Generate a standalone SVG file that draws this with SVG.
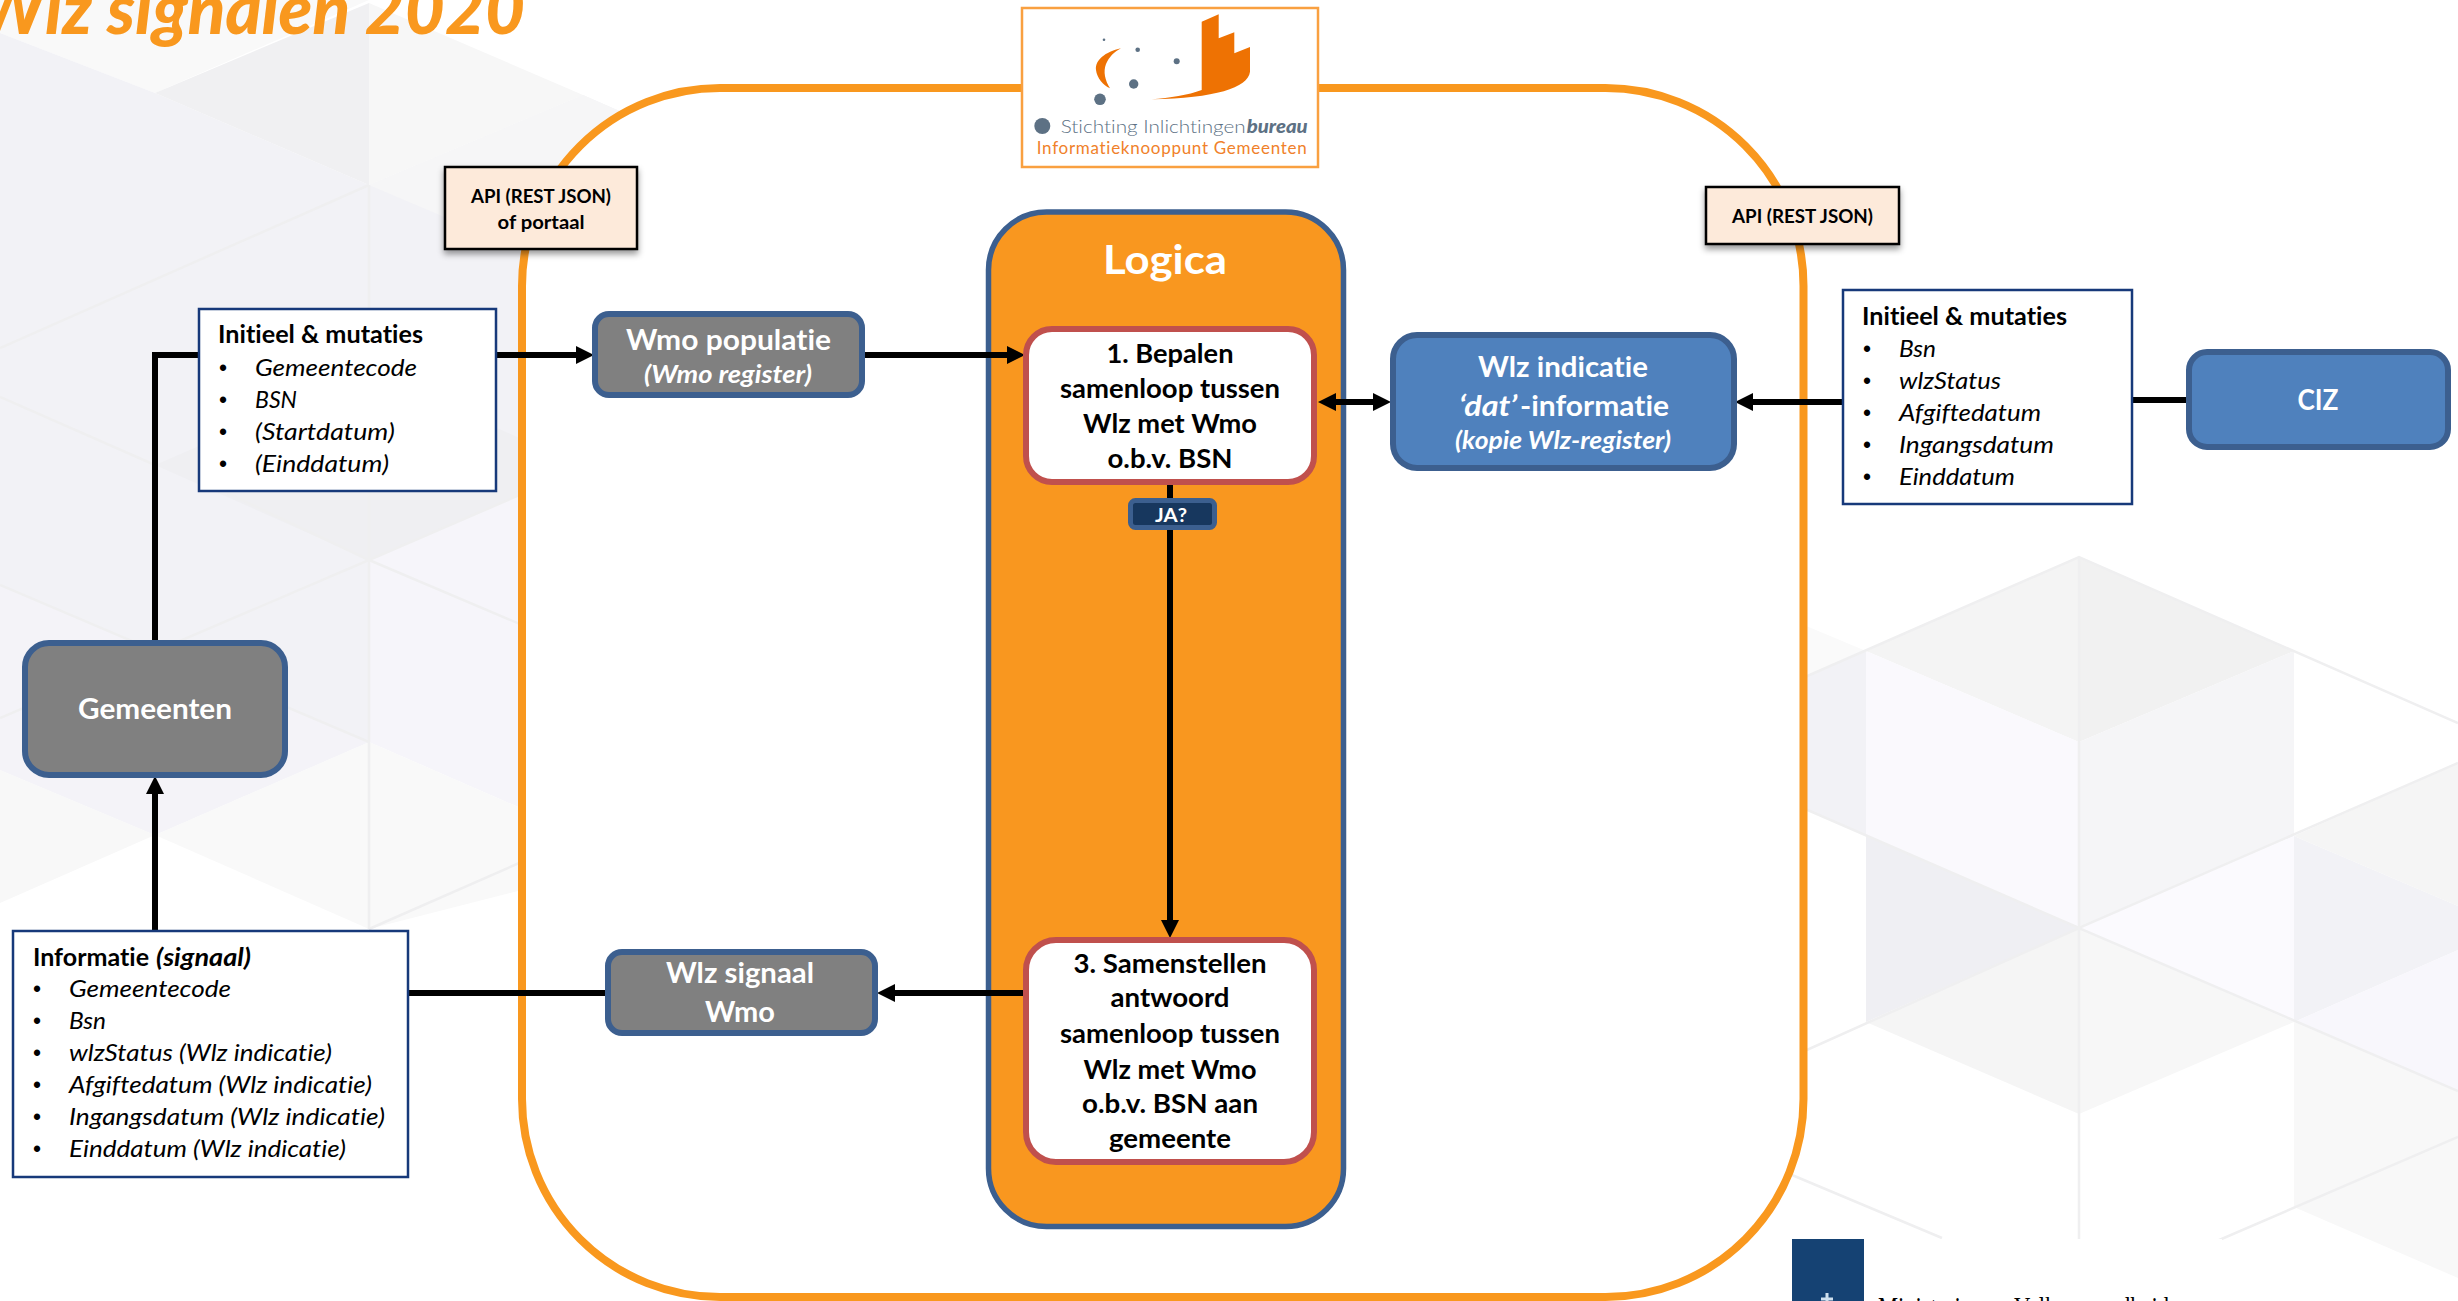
<svg xmlns="http://www.w3.org/2000/svg" width="2458" height="1301" viewBox="0 0 2458 1301">
<style>
text{font-family:"Lato","Carlito","Liberation Sans",sans-serif;font-variant-ligatures:none}
.list{font-size:24px;font-style:italic;fill:#000}
.head{font-size:24px;font-weight:700;fill:#000}
.bul{font-size:23px;fill:#000;font-family:"Liberation Sans",sans-serif}
.api{font-size:19.5px;font-weight:700;fill:#000;text-anchor:middle}
.step{font-size:27px;font-weight:700;fill:#000;text-anchor:middle}
.nt{font-size:29px;font-weight:700;fill:#fff;text-anchor:middle}
.ns{font-size:24px;font-weight:700;font-style:italic;fill:#fff;text-anchor:middle}
.lb{fill:#fff;stroke:#17397a;stroke-width:2.5}
.apibox{fill:#fdeada;stroke:#000;stroke-width:2.5;filter:url(#sh)}
.grey{fill:#808080;stroke:#3c5f8f;stroke-width:6}
.blue{fill:#4f81bd;stroke:#3c5f8f;stroke-width:6}
.red{fill:#fff;stroke:#c0504d;stroke-width:6}
.conn{fill:none;stroke:#000;stroke-width:6}
.ed{fill:none;stroke:#efeff0;stroke-width:2.5}
.dot{fill:#5d7184}
.or{fill:#ee7203}
</style>
<defs>
<filter id="sh" x="-10%" y="-10%" width="120%" height="130%"><feDropShadow dx="0" dy="4" stdDeviation="3" flood-color="#000" flood-opacity="0.4"/></filter>
<marker id="ah" markerUnits="userSpaceOnUse" markerWidth="18" markerHeight="18" refX="0" refY="9" orient="auto-start-reverse" overflow="visible"><path d="M0 0L18 9L0 18Z" fill="#000"/></marker>
</defs>
<rect width="2458" height="1301" fill="#fff"/>
<g id="background-left">
<polygon points="0,0 369,0 155,93 0,33" fill="#f9f9f9"/>
<polygon points="0,33 155,93 369,185 583,95 640,120 640,660 369,742 155,835 0,770" fill="#f2f2f6"/>
<polygon points="155,93 369,3 369,185" fill="#f0f0f2"/>
<polygon points="369,3 583,95 369,185" fill="#f7f7f7"/>
<polygon points="369,185 583,95 640,120 640,300" fill="#f6f6f7"/>
<polygon points="155,465 369,373 640,490 369,560" fill="#efeff2"/>
<polygon points="0,585 369,742 155,835 0,770" fill="#f4f3f8"/>
<polygon points="369,560 640,443 640,860 369,742" fill="#f6f5fa"/>
<polygon points="155,835 369,742 369,929" fill="#f9f9f9"/>
<polygon points="0,770 155,835 0,903" fill="#f8f8f8"/>
<polygon points="369,742 640,860 369,929" fill="#f9f9f9"/>
<path class="ed" d="M369 185V929M369 560L0 718M369 560L227 493M369 560L640 443M369 560L640 675M369 742L0 585M0 348L369 185M0 397L155 465M369 929L640 810"/>
</g>
<g id="background-right">
<polygon points="2079,557 1866,651 2079,742" fill="#f4f4f4"/>
<polygon points="2079,557 2294,651 2079,742" fill="#f1f1f1"/>
<polygon points="1866,651 2079,742 2079,928 1866,836" fill="#faf9fd"/>
<polygon points="2079,742 2294,651 2294,836 2079,928" fill="#f5f5f7"/>
<polygon points="1780,615 1866,651 1780,688" fill="#fafafa"/>
<polygon points="1780,688 1866,651 1866,836 1780,798" fill="#f2f2f6"/>
<polygon points="1866,836 2079,928 1866,1022" fill="#efeff3"/>
<polygon points="2079,928 2294,836 2294,1022" fill="#fbfafe"/>
<polygon points="2294,836 2458,906 2458,950 2294,1022" fill="#f2f2f6"/>
<polygon points="2294,836 2458,763 2458,906" fill="#f5f5f5"/>
<polygon points="2294,1022 2458,950 2458,1091" fill="#f8f7fc"/>
<polygon points="1866,1022 2079,928 2079,1114" fill="#f5f5f5"/>
<polygon points="2079,928 2294,1022 2079,1114" fill="#f7f7f7"/>
<polygon points="2294,1022 2458,1091 2458,1278 2294,1207" fill="#f8f8f8"/>
<path class="ed" d="M1780 1062L2079 928L2458 1091M1780 688L2079 557L2458 723M1780 798L2079 928L2458 763M2079 557V1300M2196 1250L2458 1137M1792 1175L1942 1238"/>
</g>
<g id="footer-logo">
<rect x="1792" y="1239" width="430" height="62" fill="#fff"/>
<rect x="1792" y="1239" width="72" height="62" fill="#154273"/>
<path d="M1827 1293V1301M1821 1299H1833" stroke="#cfe0ee" stroke-width="3" fill="none"/>
<text x="1878" y="1317" font-size="30" textLength="291" lengthAdjust="spacingAndGlyphs" style="font-family:'Liberation Serif',serif" fill="#000">Ministerie van Volksgezondheid</text>
</g>
<g id="frame">
<rect x="522" y="88" width="1281.5" height="1209" rx="198" ry="198" fill="#fff" stroke="#f9981e" stroke-width="8"/>
</g>
<g id="logica">
<rect x="988.5" y="212" width="355" height="1014.5" rx="58" ry="58" fill="#f9971f" stroke="#3c5f8f" stroke-width="5.5"/>
<text x="1165" y="274" font-size="40" font-weight="700" fill="#fff" text-anchor="middle" textLength="124" lengthAdjust="spacingAndGlyphs">Logica</text>
</g>
<g id="connectors">
<path class="conn" d="M155 640V355H199"/>
<path class="conn" d="M496 355H576" marker-end="url(#ah)"/>
<path class="conn" d="M864 355H1007" marker-end="url(#ah)"/>
<path class="conn" d="M1170 485V920" marker-end="url(#ah)"/>
<path class="conn" d="M1336 402H1373" marker-start="url(#ah)" marker-end="url(#ah)"/>
<path class="conn" d="M1843 402H1753" marker-end="url(#ah)"/>
<path class="conn" d="M2132 400H2187"/>
<path class="conn" d="M1023 993H895" marker-end="url(#ah)"/>
<path class="conn" d="M408 993H605"/>
<path class="conn" d="M155 931V794" marker-end="url(#ah)"/>
</g>
<g id="sib-logo">
<rect x="1022" y="8" width="296" height="159" fill="#fff" stroke="#f9a040" stroke-width="2.5"/>
<path class="or" d="M1201.7 21.7L1218.7 14.3V38.3L1234.3 32.3V53.3L1250 47V71.7C1248 88 1215 98 1151.7 99.3C1170 98 1188 95 1201.7 90Z"/>
<path class="or" d="M1121 48.3C1105 52 1095 60 1096 70C1097 78 1103 85 1110 88.3C1105 80 1103 72 1106 64C1109 57 1114 52 1121 48.3Z"/>
<circle class="dot" cx="1104" cy="39.7" r="1.3"/><circle class="dot" cx="1137.7" cy="49.7" r="2.3"/><circle class="dot" cx="1176.7" cy="61.3" r="3"/><circle class="dot" cx="1133.7" cy="84" r="4.7"/><circle class="dot" cx="1100" cy="99.3" r="5.8"/><circle class="dot" cx="1042.3" cy="126" r="8"/>
<text x="1060.7" y="132.7" font-size="18" font-weight="300" fill="#5d7184" textLength="185" lengthAdjust="spacingAndGlyphs">Stichting Inlichtingen</text>
<text x="1246.7" y="132.7" font-size="18" font-weight="900" font-style="italic" fill="#5d7184" textLength="61" lengthAdjust="spacingAndGlyphs">bureau</text>
<text x="1036.7" y="154.3" font-size="17" fill="#f0812a" textLength="270" lengthAdjust="spacing">Informatieknooppunt Gemeenten</text>
</g>
<g id="api-left">
<rect class="apibox" x="445" y="167" width="192" height="82"/>
<text class="api" x="541" y="203" textLength="140" lengthAdjust="spacingAndGlyphs">API (REST JSON)</text>
<text class="api" x="541" y="229" textLength="87" lengthAdjust="spacingAndGlyphs">of portaal</text>
</g>
<g id="api-right">
<rect class="apibox" x="1706" y="187" width="193" height="57"/>
<text class="api" x="1802.5" y="223" textLength="141" lengthAdjust="spacingAndGlyphs">API (REST JSON)</text>
</g>
<g id="input-gemeenten">
<rect class="lb" x="199" y="309" width="297" height="182"/>
<text class="head" x="218" y="343" textLength="205" lengthAdjust="spacingAndGlyphs">Initieel &amp; mutaties</text>
<text class="bul" x="219" y="376">•</text><text class="list" x="255" y="376" textLength="162" lengthAdjust="spacingAndGlyphs">Gemeentecode</text>
<text class="bul" x="219" y="408">•</text><text class="list" x="255" y="408" textLength="42" lengthAdjust="spacingAndGlyphs">BSN</text>
<text class="bul" x="219" y="440">•</text><text class="list" x="255" y="440" textLength="140" lengthAdjust="spacingAndGlyphs">(Startdatum)</text>
<text class="bul" x="219" y="472">•</text><text class="list" x="255" y="472" textLength="134" lengthAdjust="spacingAndGlyphs">(Einddatum)</text>
</g>
<g id="wmo-populatie">
<rect class="grey" x="595" y="314" width="267" height="81" rx="14" ry="14"/>
<text class="nt" x="728.5" y="350" textLength="205" lengthAdjust="spacingAndGlyphs">Wmo populatie</text>
<text class="ns" x="728" y="383" textLength="168" lengthAdjust="spacingAndGlyphs">(Wmo register)</text>
</g>
<g id="gemeenten">
<rect class="grey" x="25" y="643" width="260" height="132" rx="24" ry="24"/>
<text class="nt" x="155" y="719" textLength="154" lengthAdjust="spacingAndGlyphs">Gemeenten</text>
</g>
<g id="signaal-info">
<rect class="lb" x="13" y="931" width="395" height="246"/>
<text class="head" y="966"><tspan x="33" textLength="116" lengthAdjust="spacingAndGlyphs">Informatie</tspan><tspan x="156" font-style="italic" textLength="95" lengthAdjust="spacingAndGlyphs">(signaal)</tspan></text>
<text class="bul" x="33" y="997">•</text><text class="list" x="69" y="997" textLength="162" lengthAdjust="spacingAndGlyphs">Gemeentecode</text>
<text class="bul" x="33" y="1029">•</text><text class="list" x="69" y="1029" textLength="37" lengthAdjust="spacingAndGlyphs">Bsn</text>
<text class="bul" x="33" y="1061">•</text><text class="list" x="69" y="1061" textLength="263" lengthAdjust="spacingAndGlyphs">wlzStatus (Wlz indicatie)</text>
<text class="bul" x="33" y="1093">•</text><text class="list" x="69" y="1093" textLength="303" lengthAdjust="spacingAndGlyphs">Afgiftedatum (Wlz indicatie)</text>
<text class="bul" x="33" y="1125">•</text><text class="list" x="69" y="1125" textLength="316" lengthAdjust="spacingAndGlyphs">Ingangsdatum (Wlz indicatie)</text>
<text class="bul" x="33" y="1157">•</text><text class="list" x="69" y="1157" textLength="277" lengthAdjust="spacingAndGlyphs">Einddatum (Wlz indicatie)</text>
</g>
<g id="wlz-signaal">
<rect class="grey" x="608" y="952" width="267" height="81" rx="14" ry="14"/>
<text class="nt" x="740" y="983" textLength="148" lengthAdjust="spacingAndGlyphs">Wlz signaal</text>
<text class="nt" x="740" y="1022" textLength="70" lengthAdjust="spacingAndGlyphs">Wmo</text>
</g>
<g id="stap-1">
<rect class="red" x="1026" y="329" width="288" height="153" rx="26" ry="26"/>
<text class="step" x="1170" y="363" textLength="127" lengthAdjust="spacingAndGlyphs">1. Bepalen</text>
<text class="step" x="1170" y="398" textLength="220" lengthAdjust="spacingAndGlyphs">samenloop tussen</text>
<text class="step" x="1170" y="433" textLength="174" lengthAdjust="spacingAndGlyphs">Wlz met Wmo</text>
<text class="step" x="1170" y="468" textLength="125" lengthAdjust="spacingAndGlyphs">o.b.v. BSN</text>
</g>
<g id="ja">
<rect x="1130.5" y="500.5" width="84" height="27" rx="5" ry="5" fill="#17375e" stroke="#3c5f8f" stroke-width="5"/>
<text x="1171" y="522" font-size="19.5" font-weight="700" fill="#fff" text-anchor="middle" textLength="32" lengthAdjust="spacingAndGlyphs">JA?</text>
</g>
<g id="stap-3">
<rect class="red" x="1026" y="940" width="288" height="222" rx="30" ry="30"/>
<text class="step" x="1170" y="973" textLength="193" lengthAdjust="spacingAndGlyphs">3. Samenstellen</text>
<text class="step" x="1170" y="1007" textLength="119" lengthAdjust="spacingAndGlyphs">antwoord</text>
<text class="step" x="1170" y="1043" textLength="220" lengthAdjust="spacingAndGlyphs">samenloop tussen</text>
<text class="step" x="1170" y="1079" textLength="173" lengthAdjust="spacingAndGlyphs">Wlz met Wmo</text>
<text class="step" x="1170" y="1113" textLength="176" lengthAdjust="spacingAndGlyphs">o.b.v. BSN aan</text>
<text class="step" x="1170" y="1148" textLength="122" lengthAdjust="spacingAndGlyphs">gemeente</text>
</g>
<g id="wlz-indicatie">
<rect class="blue" x="1393" y="335" width="341" height="133" rx="24" ry="24"/>
<text class="nt" x="1563" y="377" textLength="170" lengthAdjust="spacingAndGlyphs">Wlz indicatie</text>
<text class="nt" y="416"><tspan x="1488" font-style="italic" textLength="58" lengthAdjust="spacingAndGlyphs">‘dat’</tspan><tspan x="1594.5" textLength="149" lengthAdjust="spacingAndGlyphs">-informatie</tspan></text>
<text class="ns" x="1563" y="449" textLength="216" lengthAdjust="spacingAndGlyphs">(kopie Wlz-register)</text>
</g>
<g id="input-ciz">
<rect class="lb" x="1843" y="290" width="289" height="214"/>
<text class="head" x="1862" y="325" textLength="205" lengthAdjust="spacingAndGlyphs">Initieel &amp; mutaties</text>
<text class="bul" x="1863" y="357">•</text><text class="list" x="1899" y="357" textLength="37" lengthAdjust="spacingAndGlyphs">Bsn</text>
<text class="bul" x="1863" y="389">•</text><text class="list" x="1899" y="389" textLength="102" lengthAdjust="spacingAndGlyphs">wlzStatus</text>
<text class="bul" x="1863" y="421">•</text><text class="list" x="1899" y="421" textLength="142" lengthAdjust="spacingAndGlyphs">Afgiftedatum</text>
<text class="bul" x="1863" y="453">•</text><text class="list" x="1899" y="453" textLength="155" lengthAdjust="spacingAndGlyphs">Ingangsdatum</text>
<text class="bul" x="1863" y="485">•</text><text class="list" x="1899" y="485" textLength="116" lengthAdjust="spacingAndGlyphs">Einddatum</text>
</g>
<g id="ciz">
<rect class="blue" x="2189" y="352" width="259" height="95" rx="18" ry="18"/>
<text class="nt" x="2318" y="410" textLength="41" lengthAdjust="spacingAndGlyphs">CIZ</text>
</g>
<g id="title">
<text x="-22" y="34" font-size="70" font-weight="900" font-style="italic" fill="#f9981e" textLength="547" lengthAdjust="spacingAndGlyphs">Wlz signalen 2020</text>
</g>
</svg>
